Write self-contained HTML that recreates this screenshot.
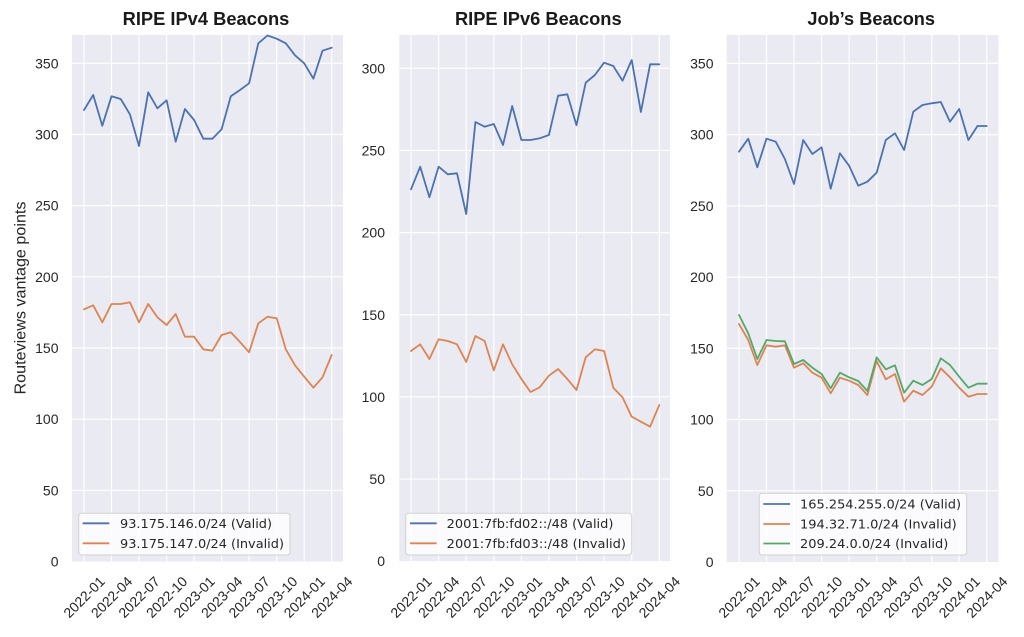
<!DOCTYPE html>
<html>
<head>
<meta charset="utf-8">
<style>
html,body{margin:0;padding:0;background:#fff;}
svg{display:block;}
.t{font-family:"Liberation Sans","DejaVu Sans",sans-serif;font-size:14px;fill:#262626;}
.lg{font-family:"DejaVu Sans","Liberation Sans",sans-serif;font-size:12.8px;fill:#262626;}
.ti{font-family:"Liberation Sans","DejaVu Sans",sans-serif;font-size:18.3px;font-weight:bold;fill:#1a1a1a;}
.g{stroke:#fff;stroke-width:1.2;}
.s{fill:none;stroke-width:1.8;stroke-linejoin:round;stroke-linecap:round;}
</style>
</head>
<body>
<svg width="1024" height="637" viewBox="0 0 1024 637" xmlns="http://www.w3.org/2000/svg">
<!-- ================= PANEL 1 ================= -->
<rect x="72" y="35" width="271" height="526.5" fill="#EAEAF2"/>
<g class="g">
<line x1="72" x2="343" y1="490.3" y2="490.3"/>
<line x1="72" x2="343" y1="419.2" y2="419.2"/>
<line x1="72" x2="343" y1="348.0" y2="348.0"/>
<line x1="72" x2="343" y1="276.8" y2="276.8"/>
<line x1="72" x2="343" y1="205.6" y2="205.6"/>
<line x1="72" x2="343" y1="134.5" y2="134.5"/>
<line x1="72" x2="343" y1="63.3" y2="63.3"/>
<line x1="84.0" x2="84.0" y1="35" y2="561.5"/>
<line x1="111.5" x2="111.5" y1="35" y2="561.5"/>
<line x1="139.0" x2="139.0" y1="35" y2="561.5"/>
<line x1="166.6" x2="166.6" y1="35" y2="561.5"/>
<line x1="194.1" x2="194.1" y1="35" y2="561.5"/>
<line x1="221.6" x2="221.6" y1="35" y2="561.5"/>
<line x1="249.1" x2="249.1" y1="35" y2="561.5"/>
<line x1="276.7" x2="276.7" y1="35" y2="561.5"/>
<line x1="304.2" x2="304.2" y1="35" y2="561.5"/>
<line x1="331.7" x2="331.7" y1="35" y2="561.5"/>
</g>
<polyline class="s" stroke="#4C72B0" points="84.0,110 93.2,95 102.3,125.7 111.5,96.3 120.7,99 129.9,114.3 139.0,146 148.2,92.3 157.4,108.3 166.6,100.3 175.7,141.7 184.9,109 194.1,120 203.3,138.7 212.4,138.7 221.6,129.3 230.8,96.3 240.0,90 249.1,83.3 258.3,43.3 267.5,35.5 276.7,38.7 285.8,43.3 295.0,55.3 304.2,63.3 313.4,78.7 322.5,50.7 331.7,47.7"/>
<polyline class="s" stroke="#DD8452" points="84.0,309.3 93.2,305.3 102.3,322.3 111.5,304 120.7,304 129.9,302.3 139.0,322.3 148.2,304 157.4,317.3 166.6,325 175.7,314 184.9,336.7 194.1,336.7 203.3,349.3 212.4,350.7 221.6,335 230.8,332.3 240.0,342 249.1,352.3 258.3,323.3 267.5,316.7 276.7,318.3 285.8,349.3 295.0,365.3 304.2,376.7 313.4,387.7 322.5,377.3 331.7,355"/>
<g class="t" text-anchor="end">
<text x="58.5" y="566.5">0</text>
<text x="58.5" y="495.3">50</text>
<text x="58.5" y="424.2">100</text>
<text x="58.5" y="353.0">150</text>
<text x="58.5" y="281.8">200</text>
<text x="58.5" y="210.6">250</text>
<text x="58.5" y="139.5">300</text>
<text x="58.5" y="68.3">350</text>
</g>
<g class="t" text-anchor="middle">
<text transform="translate(84.0,597) rotate(-45)" dy="5">2022-01</text>
<text transform="translate(111.5,597) rotate(-45)" dy="5">2022-04</text>
<text transform="translate(139.0,597) rotate(-45)" dy="5">2022-07</text>
<text transform="translate(166.6,597) rotate(-45)" dy="5">2022-10</text>
<text transform="translate(194.1,597) rotate(-45)" dy="5">2023-01</text>
<text transform="translate(221.6,597) rotate(-45)" dy="5">2023-04</text>
<text transform="translate(249.1,597) rotate(-45)" dy="5">2023-07</text>
<text transform="translate(276.7,597) rotate(-45)" dy="5">2023-10</text>
<text transform="translate(304.2,597) rotate(-45)" dy="5">2024-01</text>
<text transform="translate(331.7,597) rotate(-45)" dy="5">2024-04</text>
</g>
<text class="t" text-anchor="middle" transform="translate(25.5,298) rotate(-90)" style="font-size:15.5px" textLength="193" lengthAdjust="spacingAndGlyphs">Routeviews vantage points</text>
<text class="ti" x="206" y="25" text-anchor="middle" textLength="166.7" lengthAdjust="spacingAndGlyphs">RIPE IPv4 Beacons</text>
<rect x="78.7" y="513.3" width="211.3" height="41.7" rx="3" fill="#fff" fill-opacity="0.8" stroke="#d2d2d2" stroke-width="1"/>
<line x1="82.7" x2="109.3" y1="523.3" y2="523.3" stroke="#4C72B0" stroke-width="1.8"/>
<line x1="82.7" x2="109.3" y1="543.3" y2="543.3" stroke="#DD8452" stroke-width="1.8"/>
<text class="lg" x="120" y="527.8" textLength="152" lengthAdjust="spacingAndGlyphs">93.175.146.0/24 (Valid)</text>
<text class="lg" x="120" y="547.8" textLength="164" lengthAdjust="spacingAndGlyphs">93.175.147.0/24 (Invalid)</text>

<!-- ================= PANEL 2 ================= -->
<rect x="399.3" y="35" width="270.7" height="526.2" fill="#EAEAF2"/>
<g class="g">
<line x1="399.3" x2="670" y1="479.05" y2="479.05"/>
<line x1="399.3" x2="670" y1="396.9" y2="396.9"/>
<line x1="399.3" x2="670" y1="314.75" y2="314.75"/>
<line x1="399.3" x2="670" y1="232.6" y2="232.6"/>
<line x1="399.3" x2="670" y1="150.45" y2="150.45"/>
<line x1="399.3" x2="670" y1="68.3" y2="68.3"/>
<line x1="411.0" x2="411.0" y1="35" y2="561.2"/>
<line x1="438.6" x2="438.6" y1="35" y2="561.2"/>
<line x1="466.2" x2="466.2" y1="35" y2="561.2"/>
<line x1="493.8" x2="493.8" y1="35" y2="561.2"/>
<line x1="521.4" x2="521.4" y1="35" y2="561.2"/>
<line x1="548.9" x2="548.9" y1="35" y2="561.2"/>
<line x1="576.5" x2="576.5" y1="35" y2="561.2"/>
<line x1="604.1" x2="604.1" y1="35" y2="561.2"/>
<line x1="631.7" x2="631.7" y1="35" y2="561.2"/>
<line x1="659.3" x2="659.3" y1="35" y2="561.2"/>
</g>
<polyline class="s" stroke="#4C72B0" points="411.0,189.3 420.2,166.7 429.4,197.3 438.6,166.7 447.8,174.3 457.0,173.3 466.2,214 475.4,122 484.6,126.7 493.8,124 503.0,145 512.2,106 521.4,140 530.5,140 539.7,138.3 548.9,135 558.1,95.7 567.3,94.3 576.5,125.3 585.7,82.7 594.9,75 604.1,62.7 613.3,66 622.5,80.7 631.7,60 640.9,112 650.1,64.3 659.3,64.3"/>
<polyline class="s" stroke="#DD8452" points="411.0,351 420.2,344.3 429.4,359 438.6,339.3 447.8,341 457.0,344.3 466.2,362 475.4,336 484.6,341 493.8,370.3 503.0,344.3 512.2,364.3 521.4,379 530.5,392 539.7,387.3 548.9,375.7 558.1,369 567.3,379 576.5,390 585.7,357.3 594.9,349.3 604.1,351 613.3,387.7 622.5,397.3 631.7,416.7 640.9,421.7 650.1,426.7 659.3,405"/>
<g class="t" text-anchor="end">
<text x="385" y="566.2">0</text>
<text x="385" y="484.05">50</text>
<text x="385" y="401.9">100</text>
<text x="385" y="319.75">150</text>
<text x="385" y="237.6">200</text>
<text x="385" y="155.45">250</text>
<text x="385" y="73.3">300</text>
</g>
<g class="t" text-anchor="middle">
<text transform="translate(411.0,597) rotate(-45)" dy="5">2022-01</text>
<text transform="translate(438.6,597) rotate(-45)" dy="5">2022-04</text>
<text transform="translate(466.2,597) rotate(-45)" dy="5">2022-07</text>
<text transform="translate(493.8,597) rotate(-45)" dy="5">2022-10</text>
<text transform="translate(521.4,597) rotate(-45)" dy="5">2023-01</text>
<text transform="translate(548.9,597) rotate(-45)" dy="5">2023-04</text>
<text transform="translate(576.5,597) rotate(-45)" dy="5">2023-07</text>
<text transform="translate(604.1,597) rotate(-45)" dy="5">2023-10</text>
<text transform="translate(631.7,597) rotate(-45)" dy="5">2024-01</text>
<text transform="translate(659.3,597) rotate(-45)" dy="5">2024-04</text>
</g>
<text class="ti" x="538.3" y="25" text-anchor="middle" textLength="166.7" lengthAdjust="spacingAndGlyphs">RIPE IPv6 Beacons</text>
<rect x="405.7" y="513.3" width="226" height="41.7" rx="3" fill="#fff" fill-opacity="0.8" stroke="#d2d2d2" stroke-width="1"/>
<line x1="410" x2="436.7" y1="523.3" y2="523.3" stroke="#4C72B0" stroke-width="1.8"/>
<line x1="410" x2="436.7" y1="543.3" y2="543.3" stroke="#DD8452" stroke-width="1.8"/>
<text class="lg" x="446.7" y="527.8" textLength="166.7" lengthAdjust="spacingAndGlyphs">2001:7fb:fd02::/48 (Valid)</text>
<text class="lg" x="446.7" y="547.8" textLength="179.3" lengthAdjust="spacingAndGlyphs">2001:7fb:fd03::/48 (Invalid)</text>

<!-- ================= PANEL 3 ================= -->
<rect x="726.7" y="35" width="271.6" height="527" fill="#EAEAF2"/>
<g class="g">
<line x1="726.7" x2="998.3" y1="490.8" y2="490.8"/>
<line x1="726.7" x2="998.3" y1="419.5" y2="419.5"/>
<line x1="726.7" x2="998.3" y1="348.3" y2="348.3"/>
<line x1="726.7" x2="998.3" y1="277.1" y2="277.1"/>
<line x1="726.7" x2="998.3" y1="205.8" y2="205.8"/>
<line x1="726.7" x2="998.3" y1="134.6" y2="134.6"/>
<line x1="726.7" x2="998.3" y1="63.4" y2="63.4"/>
<line x1="739.0" x2="739.0" y1="35" y2="562"/>
<line x1="766.5" x2="766.5" y1="35" y2="562"/>
<line x1="794.0" x2="794.0" y1="35" y2="562"/>
<line x1="821.6" x2="821.6" y1="35" y2="562"/>
<line x1="849.1" x2="849.1" y1="35" y2="562"/>
<line x1="876.6" x2="876.6" y1="35" y2="562"/>
<line x1="904.1" x2="904.1" y1="35" y2="562"/>
<line x1="931.7" x2="931.7" y1="35" y2="562"/>
<line x1="959.2" x2="959.2" y1="35" y2="562"/>
<line x1="986.7" x2="986.7" y1="35" y2="562"/>
</g>
<polyline class="s" stroke="#4C72B0" points="739.0,151.7 748.2,138.7 757.3,167.3 766.5,138.7 775.7,141.7 784.9,159 794.0,184 803.2,140 812.4,154 821.6,147.3 830.7,188.7 839.9,153.3 849.1,165.7 858.3,185.7 867.4,181.7 876.6,172.7 885.8,140 895.0,133.3 904.1,150 913.3,111.7 922.5,105 931.7,103.3 940.8,102 950.0,121.7 959.2,109 968.4,140 977.5,126 986.7,126"/>
<polyline class="s" stroke="#DD8452" points="739.0,324 748.2,340 757.3,365 766.5,345.3 775.7,346.7 784.9,345.3 794.0,367.7 803.2,363.3 812.4,372.7 821.6,377.7 830.7,393.3 839.9,377.7 849.1,380.7 858.3,385 867.4,395 876.6,361 885.8,379.3 895.0,374 904.1,401.7 913.3,390.7 922.5,395 931.7,386.7 940.8,368.3 950.0,377.3 959.2,387.7 968.4,396.7 977.5,394 986.7,394"/>
<polyline class="s" stroke="#55A868" points="739.0,315 748.2,333.3 757.3,359 766.5,340 775.7,341 784.9,341.3 794.0,364 803.2,360 812.4,367.7 821.6,374 830.7,388.3 839.9,372.7 849.1,377.3 858.3,381 867.4,391 876.6,357.3 885.8,369.3 895.0,365.3 904.1,392.7 913.3,380.7 922.5,385 931.7,379 940.8,358.3 950.0,365 959.2,376.7 968.4,387.7 977.5,383.7 986.7,383.7"/>
<g class="t" text-anchor="end">
<text x="713.5" y="567">0</text>
<text x="713.5" y="495.8">50</text>
<text x="713.5" y="424.5">100</text>
<text x="713.5" y="353.3">150</text>
<text x="713.5" y="282.1">200</text>
<text x="713.5" y="210.8">250</text>
<text x="713.5" y="139.6">300</text>
<text x="713.5" y="68.4">350</text>
</g>
<g class="t" text-anchor="middle">
<text transform="translate(739.0,597) rotate(-45)" dy="5">2022-01</text>
<text transform="translate(766.5,597) rotate(-45)" dy="5">2022-04</text>
<text transform="translate(794.0,597) rotate(-45)" dy="5">2022-07</text>
<text transform="translate(821.6,597) rotate(-45)" dy="5">2022-10</text>
<text transform="translate(849.1,597) rotate(-45)" dy="5">2023-01</text>
<text transform="translate(876.6,597) rotate(-45)" dy="5">2023-04</text>
<text transform="translate(904.1,597) rotate(-45)" dy="5">2023-07</text>
<text transform="translate(931.7,597) rotate(-45)" dy="5">2023-10</text>
<text transform="translate(959.2,597) rotate(-45)" dy="5">2024-01</text>
<text transform="translate(986.7,597) rotate(-45)" dy="5">2024-04</text>
</g>
<text class="ti" x="871.2" y="25" text-anchor="middle" textLength="127.7" lengthAdjust="spacingAndGlyphs">Job’s Beacons</text>
<rect x="759.3" y="493.3" width="207.4" height="61.7" rx="3" fill="#fff" fill-opacity="0.8" stroke="#d2d2d2" stroke-width="1"/>
<line x1="763.3" x2="790" y1="504" y2="504" stroke="#4C72B0" stroke-width="1.8"/>
<line x1="763.3" x2="790" y1="524" y2="524" stroke="#DD8452" stroke-width="1.8"/>
<line x1="763.3" x2="790" y1="543.5" y2="543.5" stroke="#55A868" stroke-width="1.8"/>
<text class="lg" x="800" y="508.5" textLength="161" lengthAdjust="spacingAndGlyphs">165.254.255.0/24 (Valid)</text>
<text class="lg" x="800" y="528.5" textLength="156.7" lengthAdjust="spacingAndGlyphs">194.32.71.0/24 (Invalid)</text>
<text class="lg" x="800" y="548" textLength="148.3" lengthAdjust="spacingAndGlyphs">209.24.0.0/24 (Invalid)</text>
</svg>
</body>
</html>
